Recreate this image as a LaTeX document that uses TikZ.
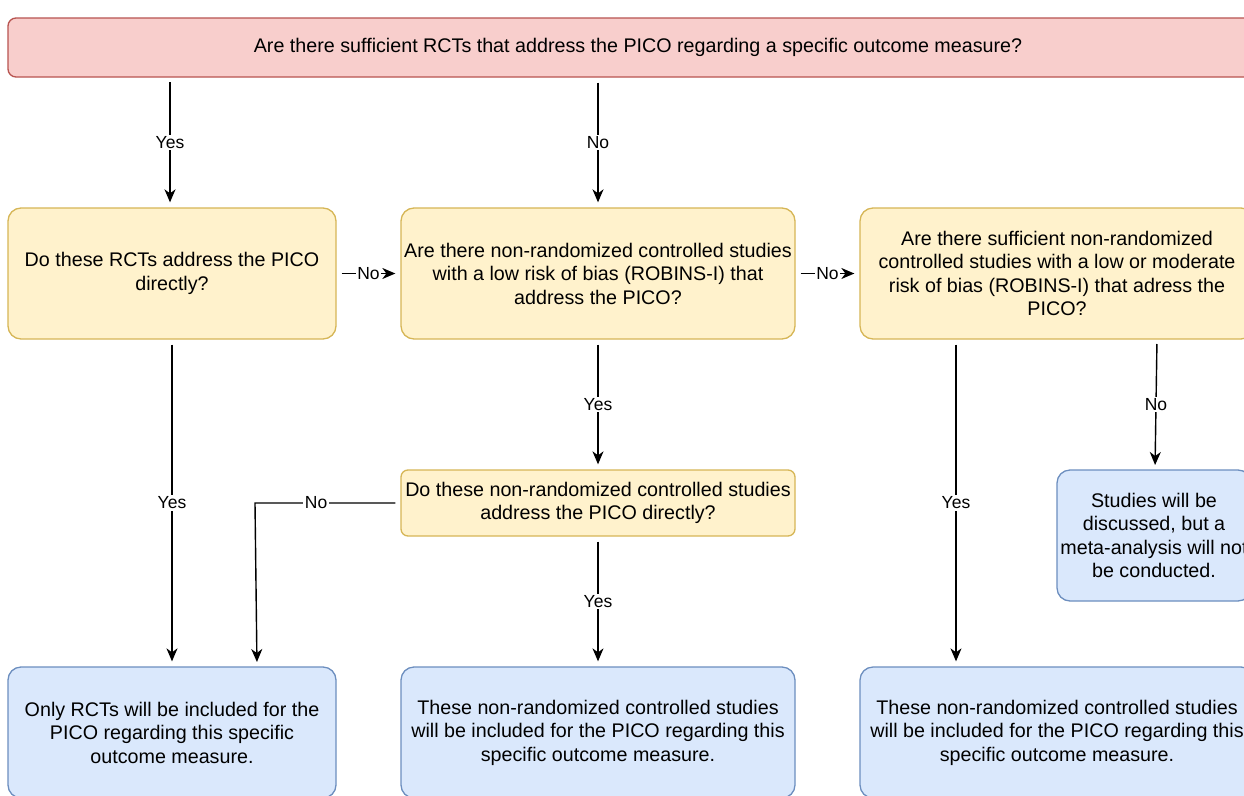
\documentclass[tikz,border=0pt]{standalone}
\usepackage{fontspec}
\setmainfont{Liberation Sans}
\usetikzlibrary{arrows.meta}
\definecolor{redf}{HTML}{F8CECC}\definecolor{redd}{HTML}{B85450}
\definecolor{yelf}{HTML}{FFF2CC}\definecolor{yeld}{HTML}{D6B656}
\definecolor{bluf}{HTML}{DAE8FC}\definecolor{blud}{HTML}{6C8EBF}
\tikzset{
  box/.style={draw, line width=1.3pt, rounded corners=13pt, align=center, inner sep=0pt, font=\fontsize{19.7}{23.5}\selectfont},
  redbox/.style={box, fill=redf, draw=redd, rounded corners=8pt},
  yelbox/.style={box, fill=yelf, draw=yeld},
  blubox/.style={box, fill=bluf, draw=blud},
  arr/.style={line width=1.4pt, -{Stealth[length=13pt,width=11pt,inset=4pt]}, shorten <=5pt, shorten >=5pt},
  lbl/.style={fill=white, inner sep=1.5pt, font=\fontsize{17.5}{19}\selectfont}
}
\begin{document}
\begin{tikzpicture}[x=1pt,y=-1pt]
\useasboundingbox (0,0) rectangle (1244,795);
\clip (0,0) rectangle (1244,795);
\fill[white] (0,0) rectangle (1244,795);
\node[redbox, minimum width=1260pt, minimum height=59pt] (top) at (638,47.5) {Are there sufficient RCTs that address the PICO regarding a specific outcome measure?};
\node[yelbox, minimum width=328pt, minimum height=131pt] (q1) at (172,273.5) {Do these RCTs address the PICO\\directly?};
\node[yelbox, minimum width=394pt, minimum height=131pt] (q2) at (598,273.5) {Are there non-randomized controlled studies\\with a low risk of bias (ROBINS-I) that\\address the PICO?};
\node[yelbox, minimum width=394pt, minimum height=131pt] (q3) at (1057,273.5) {Are there sufficient non-randomized\\controlled studies with a low or moderate\\risk of bias (ROBINS-I) that adress the\\PICO?};
\node[yelbox, minimum width=394pt, minimum height=66pt, rounded corners=7pt] (q4) at (598,503) {Do these non-randomized controlled studies\\address the PICO directly?};
\node[blubox, minimum width=194pt, minimum height=131pt] (s) at (1154,535.5) {Studies will be\\discussed, but a\\meta-analysis will not\\be conducted.};
\node[blubox, minimum width=328pt, minimum height=131pt] (b1) at (172,732.5) {Only RCTs will be included for the\\PICO regarding this specific\\outcome measure.};
\node[blubox, minimum width=394pt, minimum height=131pt] (b2) at (598,732.5) {These non-randomized controlled studies\\will be included for the PICO regarding this\\specific outcome measure.};
\node[blubox, minimum width=394pt, minimum height=131pt] (b3) at (1057,732.5) {These non-randomized controlled studies\\will be included for the PICO regarding this\\specific outcome measure.};
\coordinate (t1) at (170,77);
\coordinate (k1) at (255,503);
\coordinate (k2) at (257,667);
\coordinate (r1) at (1157,339);
\coordinate (r2) at (1155,470);
\draw[arr] (t1) -- (t1 |- q1.north) node[lbl, midway] {Yes};
\draw[arr] (top.south -| q2.north) -- (q2.north) node[lbl, midway] {No};
\draw[arr] (q1.east) -- (q2.west) node[lbl, midway] {No};
\draw[arr] (q2.east) -- (q3.west) node[lbl, midway] {No};
\draw[arr] (q2.south) -- (q4.north) node[lbl, midway] {Yes};
\draw[arr] (q4.south) -- (b2.north) node[lbl, midway] {Yes};
\draw[arr] (q1.south) -- (b1.north) node[lbl, midway] {Yes};
\draw[arr] (q4.west) -- (k1) node[lbl, pos=0.58] {No} -- (k2);
\draw[arr] (q3.south -| 956,0) -- (b3.north -| 956,0) node[lbl, midway] {Yes};
\draw[arr] (r1) -- (r2) node[lbl, midway] {No};
\end{tikzpicture}
\end{document}
